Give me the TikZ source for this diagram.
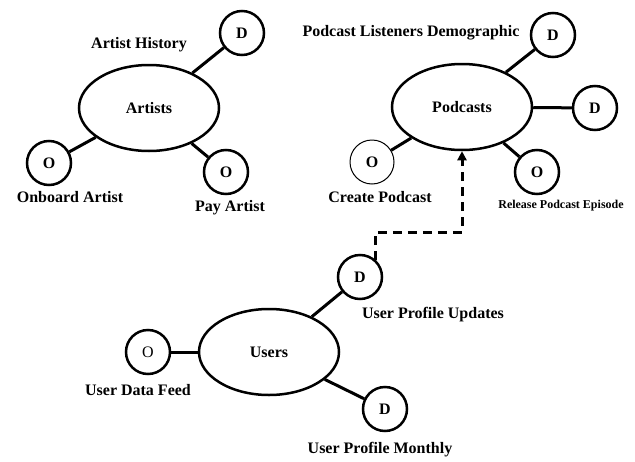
\documentclass[tikz,border=0pt]{standalone}
\usepackage{fontspec}
\setmainfont{Liberation Serif}
\usepackage{tikz}
\usetikzlibrary{arrows.meta,positioning,shapes.geometric}
\tikzset {
	entity/.style={ellipse, draw, line width=2.5pt, minimum width=140pt, minimum height=86pt, inner sep=0pt, font=\bfseries\fontsize{16}{18}\selectfont},
	store/.style={circle, draw, line width=2.5pt, minimum size=44pt, inner sep=0pt, font=\bfseries\fontsize{16}{18}\selectfont},
	thinstore/.style={store, line width=1pt},
	caption/.style={font=\bfseries\fontsize{16}{18}\selectfont, inner sep=0pt},
	smallcaption/.style={font=\bfseries\fontsize{12}{14}\selectfont, inner sep=0pt},
	link/.style={line width=3pt},
	feed/.style={line width=3pt, dash pattern=on 9pt off 6pt, -{Triangle[length=9pt,width=9pt]}}
}
\begin{document}
\begin{tikzpicture}[x=1pt,y=-1pt]
					\useasboundingbox (0,0) rectangle (635,461);
					\node [entity] (artists) at (149,108) {Artists};
					\node [store] (artHist) at (242,33) {D};
					\node [store] (onboard) at (49,163) {O};
					\node [store] (payArt) at (226,172) {O};
					\node [caption] (artHistLbl) at (139,45) {Artist History};
					\node [caption] (onboardLbl) at (70,197) {Onboard Artist};
					\node [caption] (payArtLbl) at (230,208) {Pay Artist};
					\draw [link] (artists) -- (artHist);
					\draw [link] (artists) -- (onboard);
					\draw [link] (artists) -- (payArt);

					\node [entity] (podcasts) at (462,107) {Podcasts};
					\node [store] (podDemo) at (553,35) {D};
					\node [store] (podRight) at (595,108) {D};
					\node [store] (podRelease) at (537,172) {O};
					\node [thinstore] (podCreate) at (372,162) {O};
					\node [caption] (podDemoLbl) at (411,33) {Podcast Listeners Demographic};
					\node [caption] (podCreateLbl) at (380,197) {Create Podcast};
					\node [smallcaption] (podReleaseLbl) at (561,206) {Release Podcast Episode};
					\draw [link] (podcasts) -- (podDemo);
					\draw [link] (podcasts) -- (podRight);
					\draw [link] (podcasts) -- (podRelease);
					\draw [link] (podcasts) -- (podCreate);

					\node [entity] (users) at (269,352) {Users};
					\node [store] (usrUpd) at (360,277) {D};
					\node [store, font=\fontsize{16}{18}\selectfont] (usrFeed) at (148,352) {O};
					\node [store] (usrMonth) at (385,409) {D};
					\node [caption] (usrUpdLbl) at (433,315) {User Profile Updates};
					\node [caption] (usrFeedLbl) at (138,390) {User Data Feed};
					\node [caption] (usrMonthLbl) at (380,450) {User Profile Monthly};
					\draw [link] (users) -- (usrUpd);
					\draw [link] (users) -- (usrFeed);
					\draw [link] (users) -- (usrMonth);

					\coordinate (bend) at (462,232);
					\draw [feed] (usrUpd.47) |- (bend) -- (podcasts.south);
\end{tikzpicture}
\end{document}
